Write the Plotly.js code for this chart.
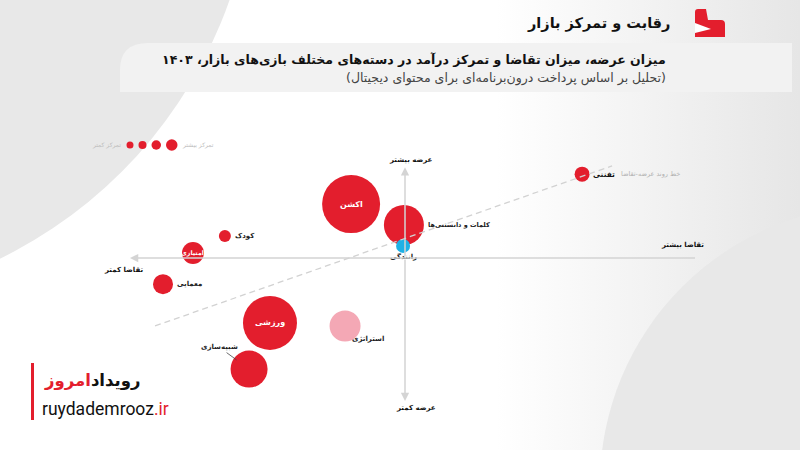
<!DOCTYPE html>
<html>
<head>
<meta charset="utf-8">
<script src="https://cdn.plot.ly/plotly-3.0.1.min.js"></script>
<style>
  html, body { margin:0; padding:0; }
  #chart { width:800px; height:450px; background: linear-gradient(to right, #ffffff 0%, #ffffff 62%, #e6e6e6 100%); }
</style>
</head>
<body>
<div id="chart"></div>
<script>
// ---- data ----
const categories = ['اکشن', 'کلمات و دانستنی‌ها', 'رانندگی', 'تفننی', 'کودک', 'امتیازی', 'معمایی', 'ورزشی', 'شبیه‌سازی', 'استراتژی'];
const demand = [-19.6, -0.4, -0.7, 64.4, -65.5, -77.1, -88.0, -49.1, -56.7, -21.8];      // تقاضا
const supply = [19.6, 12.0, 4.4, 30.5, 8.0, 1.8, -9.5, -23.6, -40.4, -24.7];              // عرضه
const concentration = [58, 40, 14, 15, 12, 22, 20, 54, 37, 31];                           // تمرکز درآمد
const trendDemand = [-90.9, 75.3];
const trendSupply = [-24.7, 33.5];
const legendSizes = [7, 8, 9.5, 11.5];

// ---- styles ----
const RED = '#e31e2d', BLUE = '#1fb1e6', PINK = '#f4a8b5';
const pointColors = categories.map(c => c === 'رانندگی' ? BLUE : (c === 'استراتژی' ? PINK : RED));
const FA = 'DejaVu Sans';
const W = 800, H = 450;
const px = x => x / W, py = y => 1 - y / H;
const path = pts => pts.map((p, i) => (p[0] === 'Q' ? `Q${px(p[1])},${py(p[2])} ${px(p[3])},${py(p[4])}` : `${i ? 'L' : 'M'}${px(p[0])},${py(p[1])}`)).join(' ') + ' Z';

// label placement per category: [mode, xshift, yshift, xanchor, fontsize]
const labelPlace = {
  'اکشن': ['in', 0, 0, 'center', 8],
  'کلمات و دانستنی‌ها': ['out', 22, 0, 'left', 6.5],
  'رانندگی': ['out', 0, -11, 'center', 7],
  'تفننی': ['outb', 9, 0, 'left', 7.5],
  'کودک': ['out', 8, 0, 'left', 7],
  'امتیازی': ['in', 0, 0, 'center', 6.3],
  'معمایی': ['out', 12, 0, 'left', 7],
  'ورزشی': ['in', 0, 0, 'center', 8],
  'شبیه‌سازی': ['lead', -30, -22, 'center', 7],
  'استراتژی': ['out', 23, -13, 'center', 7]
};

const k = 2.75; // px per unit
const cx = 405, cy = 258;

const traces = [
  {
    type: 'scatter', mode: 'markers', x: demand, y: supply, text: categories,
    marker: { size: concentration, sizemode: 'diameter', sizeref: 1, color: pointColors, line: { width: 0 }, opacity: 1 },
    hoverinfo: 'skip', showlegend: false
  },
  {
    type: 'scatter', mode: 'lines', x: trendDemand, y: trendSupply,
    line: { color: '#d2d2d2', width: 1.3, dash: '6px,4px' }, hoverinfo: 'skip', showlegend: false
  }
];

const annotations = [];
categories.forEach((c, i) => {
  const [mode, xs, ys, xa, fs] = labelPlace[c];
  if (mode === 'in') {
    annotations.push({ x: demand[i], y: supply[i], xref: 'x', yref: 'y', text: '<b>' + c + '</b>', showarrow: false,
      font: { family: FA, size: fs, color: '#ffffff' }, xanchor: 'center', yanchor: 'middle' });
  } else if (mode === 'lead') {
    annotations.push({ x: demand[i], y: supply[i], xref: 'x', yref: 'y', text: '<b>' + c + '</b>', showarrow: true,
      ax: xs, ay: ys, arrowhead: 0, arrowwidth: 0.8, arrowcolor: '#444', standoff: concentration[i] / 2 - 3,
      font: { family: FA, size: fs, color: '#222' } });
  } else {
    annotations.push({ x: demand[i], y: supply[i], xref: 'x', yref: 'y', text: '<b>' + c + '</b>', showarrow: false,
      xshift: xs, yshift: ys, xanchor: xa, yanchor: 'middle',
      font: { family: FA, size: fs, color: mode === 'outb' ? '#111' : '#222' } });
  }
});
// trend line label
const ti = categories.indexOf('تفننی');
annotations.push({ x: demand[ti], y: supply[ti], xref: 'x', yref: 'y', text: 'خط روند عرضه-تقاضا', showarrow: false,
  xshift: 37, xanchor: 'left', yanchor: 'middle', font: { family: FA, size: 6.5, color: '#b0b0b0' } });

// axes arrows (quadrant frame)
const axisCol = '#d4d4d4';
annotations.push({ x: -100, y: 0, ax: 106, ay: 0, xref: 'x', yref: 'y', axref: 'x', ayref: 'y', text: '', showarrow: true,
  arrowhead: 2, arrowsize: 1.1, arrowwidth: 1.5, arrowcolor: axisCol });
annotations.push({ x: 0, y: 33, ax: 0, ay: 0, xref: 'x', yref: 'y', axref: 'x', ayref: 'y', text: '', showarrow: true,
  arrowhead: 2, arrowsize: 1.1, arrowwidth: 1.5, arrowcolor: axisCol });
annotations.push({ x: 0, y: -52, ax: 0, ay: 0, xref: 'x', yref: 'y', axref: 'x', ayref: 'y', text: '', showarrow: true,
  arrowhead: 2, arrowsize: 1.1, arrowwidth: 1.5, arrowcolor: axisCol });

const axisLabel = (t, x, y) => ({ x: px(x), y: py(y), xref: 'paper', yref: 'paper', text: '<b>' + t + '</b>', showarrow: false,
  xanchor: 'center', yanchor: 'middle', font: { family: FA, size: 7, color: '#111' } });
annotations.push(axisLabel('عرضه بیشتر', 411, 160));
annotations.push(axisLabel('عرضه کمتر', 416, 408));
annotations.push(axisLabel('تقاضا کمتر', 123, 270));
annotations.push(axisLabel('تقاضا بیشتر', 682, 245));

// concentration legend text
annotations.push({ x: px(123), y: py(145), xref: 'paper', yref: 'paper', text: 'تمرکز کمتر', showarrow: false,
  xanchor: 'right', yanchor: 'middle', font: { family: FA, size: 6, color: '#bdbdbd' } });
annotations.push({ x: px(180), y: py(145), xref: 'paper', yref: 'paper', text: 'تمرکز بیشتر', showarrow: false,
  xanchor: 'left', yanchor: 'middle', font: { family: FA, size: 6, color: '#bdbdbd' } });

// header texts
annotations.push({ x: px(672), y: py(23), xref: 'paper', yref: 'paper', text: '<b>رقابت و تمرکز بازار</b>', showarrow: false,
  xanchor: 'right', yanchor: 'middle', font: { family: FA, size: 14.5, color: '#111' } });
annotations.push({ x: px(668), y: py(60), xref: 'paper', yref: 'paper',
  text: '<b>میزان عرضه، میزان تقاضا و تمرکز درآمد در دسته‌های مختلف بازی‌های بازار، ۱۴۰۳</b>', showarrow: false,
  xanchor: 'right', yanchor: 'middle', font: { family: FA, size: 12.5, color: '#111' } });
annotations.push({ x: px(668), y: py(78), xref: 'paper', yref: 'paper',
  text: '\u202B(تحلیل بر اساس پرداخت درون‌برنامه‌ای برای محتوای دیجیتال)\u202C', showarrow: false,
  xanchor: 'right', yanchor: 'middle', font: { family: FA, size: 12.5, color: '#444' } });

// bottom-left brand
annotations.push({ x: px(42), y: py(381), xref: 'paper', yref: 'paper',
  text: '<b><span style="color:#111">رویداد</span><span style="color:' + RED + '">امروز</span></b>', showarrow: false,
  xanchor: 'left', yanchor: 'middle', font: { family: FA, size: 16.5 } });
annotations.push({ x: px(40), y: py(409), xref: 'paper', yref: 'paper',
  text: '<span style="color:#111">ruydademrooz</span><span style="color:' + RED + '">.ir</span>', showarrow: false,
  xanchor: 'left', yanchor: 'middle', font: { family: 'Roboto', size: 17.5 } });

// ---- decorative shapes ----
const shapes = [
  { type: 'circle', xref: 'paper', yref: 'paper', x0: px(-655), x1: px(255), y0: py(305), y1: py(-605), fillcolor: '#e8e8e8', line: { width: 0 }, layer: 'below' },
  { type: 'circle', xref: 'paper', yref: 'paper', x0: px(600), x1: px(1160), y0: py(765), y1: py(205), fillcolor: '#e8e8e8', line: { width: 0 }, layer: 'below' },
  { type: 'path', xref: 'paper', yref: 'paper', path: path([[120, 92], [120, 70], ['Q', 120, 43, 148, 43], [792, 43], [792, 92]]), fillcolor: '#f2f2f2', line: { width: 0 }, layer: 'below' },
  { type: 'rect', xref: 'paper', yref: 'paper', x0: 0, x1: px(183), y0: py(430), y1: py(350), fillcolor: '#ffffff', line: { width: 0 }, layer: 'below' },
  { type: 'rect', xref: 'paper', yref: 'paper', x0: px(31), x1: px(34), y0: py(420), y1: py(363), fillcolor: RED, line: { width: 0 } },
  // top-right logo
  { type: 'path', xref: 'paper', yref: 'paper', path: path([[695, 37], [695, 12], ['Q', 695, 9, 698, 9], [706, 9], [708, 20], [721, 20], ['Q', 725, 20, 725, 24], [725, 37]]), fillcolor: RED, line: { width: 0 } },
  { type: 'path', xref: 'paper', yref: 'paper', path: path([[695, 23], [711, 29], [695, 33]]), fillcolor: '#ffffff', line: { width: 0 } }
];
// concentration legend circles
let lx = 126.5;
legendSizes.forEach((d) => {
  const cxp = lx + d / 2;
  shapes.push({ type: 'circle', xref: 'paper', yref: 'paper', x0: px(cxp - d / 2), x1: px(cxp + d / 2), y0: py(145 + d / 2), y1: py(145 - d / 2), fillcolor: RED, line: { width: 0 } });
  lx = cxp + d / 2 + 5;
});

const layout = {
  width: W, height: H,
  margin: { l: 0, r: 0, t: 0, b: 0 },
  paper_bgcolor: 'rgba(0,0,0,0)', plot_bgcolor: 'rgba(0,0,0,0)',
  xaxis: { range: [-cx / k, (W - cx) / k], visible: false, fixedrange: true },
  yaxis: { range: [-(H - cy) / k, cy / k], visible: false, fixedrange: true },
  showlegend: false,
  shapes: shapes,
  annotations: annotations
};

Plotly.newPlot('chart', traces, layout, { displayModeBar: false, staticPlot: true });
</script>
</body>
</html>
